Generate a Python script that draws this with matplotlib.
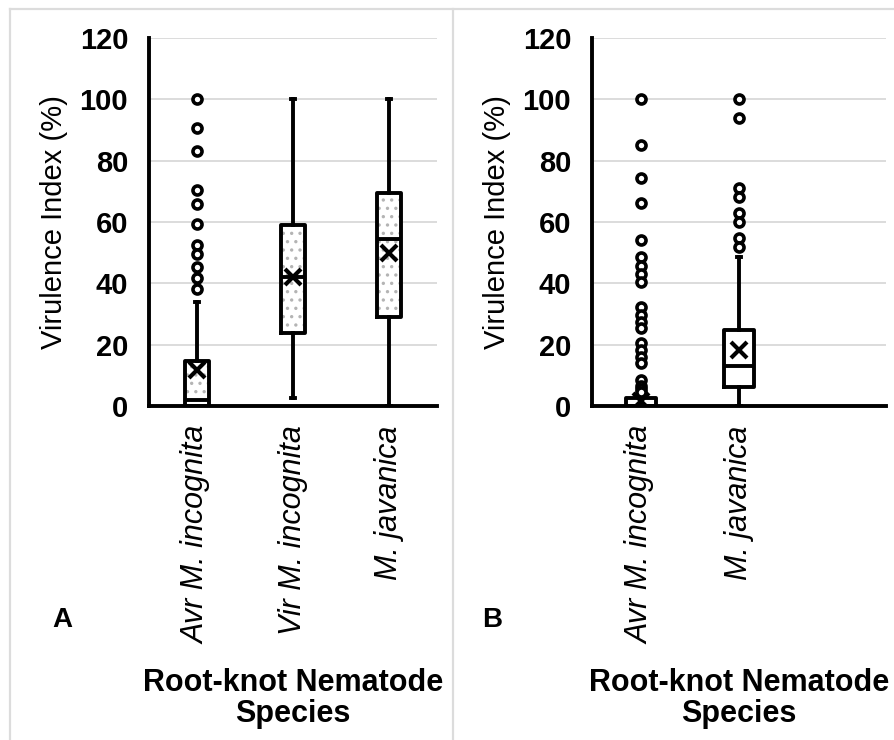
import matplotlib.pyplot as plt
from matplotlib.lines import Line2D

plt.rcParams['font.family'] = ['Liberation Sans', 'DejaVu Sans']
plt.rcParams['hatch.linewidth'] = 1.2

# panel A: three nematode groups
species_a = ['Avr M. incognita', 'Vir M. incognita', 'M. javanica']
q1_a = [0.0, 23.7, 29.1]
med_a = [2.0, 42.2, 54.3]
q3_a = [14.6, 59.0, 69.3]
lo_a = [0.0, 2.5, 0.0]
hi_a = [34.0, 100.0, 100.0]
mean_a = [11.7, 42.2, 49.8]
fliers_a = [[100, 90.5, 83.3, 70.4, 66.0, 59.3, 52.5, 49.6, 45.4, 41.6, 38.0],
            [], []]

# panel B: two groups
species_b = ['Avr M. incognita', 'M. javanica']
q1_b = [0.0, 6.3]
med_b = [0.0, 13.1]
q3_b = [2.5, 24.8]
lo_b = [0.0, 0.0]
hi_b = [3.0, 48.7]
mean_b = [1.5, 18.3]
fliers_b = [[100, 85.1, 74.4, 66.1, 54.1, 48.7, 45.7, 43.0, 40.5, 32.4, 29.7,
             27.5, 25.3, 20.4, 18.3, 16.1, 13.9, 8.6, 6.5, 5.5, 4.5],
            [100, 93.8, 71.0, 68.2, 62.8, 60.1, 54.7, 52.0]]

yticks = [0, 20, 40, 60, 80, 100, 120]

W, H = 894, 740
fig = plt.figure(figsize=(W / 100, H / 100), dpi=100)
fig.patch.set_facecolor('white')


def draw_panel(ax, names, q1, med, q3, lo, hi, mean, fliers, width, stipple):
    pos = list(range(1, len(names) + 1))
    stats = []
    for i, n in enumerate(names):
        stats.append(dict(label=n, q1=q1[i], med=med[i], q3=q3[i],
                          whislo=lo[i], whishi=hi[i], mean=mean[i],
                          fliers=fliers[i]))
    # box fill (stippled in panel A)
    heights = [b - a for a, b in zip(q1, q3)]
    ax.bar(pos, heights, bottom=q1, width=width, color='white',
           hatch='..' if stipple else None, edgecolor='#b4b4b4', lw=0,
           zorder=2)
    lw = 2.8
    ax.bxp(stats, positions=pos, widths=width, showmeans=True,
           capwidths=0.035,
           boxprops=dict(color='black', lw=lw),
           whiskerprops=dict(color='black', lw=lw),
           capprops=dict(color='black', lw=lw),
           medianprops=dict(color='black', lw=lw),
           meanprops=dict(marker='x', markeredgecolor='black',
                          markersize=11, markeredgewidth=3),
           flierprops=dict(marker='o', markerfacecolor='white',
                           markeredgecolor='black', markersize=6.5,
                           markeredgewidth=2.6),
           zorder=3)
    ax.set_xlim(0.5, 3.5)
    ax.set_ylim(0, 120)
    ax.set_yticks(yticks)
    ax.set_yticklabels([str(t) for t in yticks], fontsize=21,
                       fontweight='bold')
    ax.set_xticks(pos)
    ax.set_xticklabels(names, rotation=90, fontsize=22, style='italic')
    ax.tick_params(axis='both', length=0)
    ax.tick_params(axis='y', pad=15)
    ax.tick_params(axis='x', pad=14)
    ax.grid(axis='y', color='#d9d9d9', lw=1.3)
    ax.set_axisbelow(True)
    for s in ['top', 'right']:
        ax.spines[s].set_visible(False)
    for s in ['left', 'bottom']:
        ax.spines[s].set_linewidth(2.8)
        ax.spines[s].set_color('black')
    ax.set_ylabel('Virulence Index (%)', fontsize=21, labelpad=8)


ax_a = fig.add_axes([149 / W, 1 - 406 / H, 288 / W, 368 / H])
draw_panel(ax_a, species_a, q1_a, med_a, q3_a, lo_a, hi_a, mean_a, fliers_a,
           0.26, True)

ax_b = fig.add_axes([592 / W, 1 - 406 / H, 294 / W, 368 / H])
draw_panel(ax_b, species_b, q1_b, med_b, q3_b, lo_b, hi_b, mean_b, fliers_b,
           0.30, False)

# shared axis titles and panel letters
for ax, letter, lx in [(ax_a, 'A', 62), (ax_b, 'B', 492)]:
    bb = ax.get_position()
    fig.text((bb.x0 + bb.x1) / 2, 1 - 668 / H, 'Root-knot Nematode\nSpecies',
             ha='center', va='top', fontsize=22, fontweight='bold',
             linespacing=1.05)
    fig.text(lx / W, 1 - 620 / H, letter, ha='center', va='center',
             fontsize=20, fontweight='bold')

# light panel frames
fc = '#dcdcdc'
ytop = 1 - 8.5 / H
fig.add_artist(Line2D([10 / W, 1], [ytop, ytop], transform=fig.transFigure,
                      color=fc, lw=1.6))
for xv in [10, 453]:
    fig.add_artist(Line2D([xv / W, xv / W], [0, ytop],
                          transform=fig.transFigure, color=fc, lw=1.6))

fig.savefig('out.png', dpi=100)
